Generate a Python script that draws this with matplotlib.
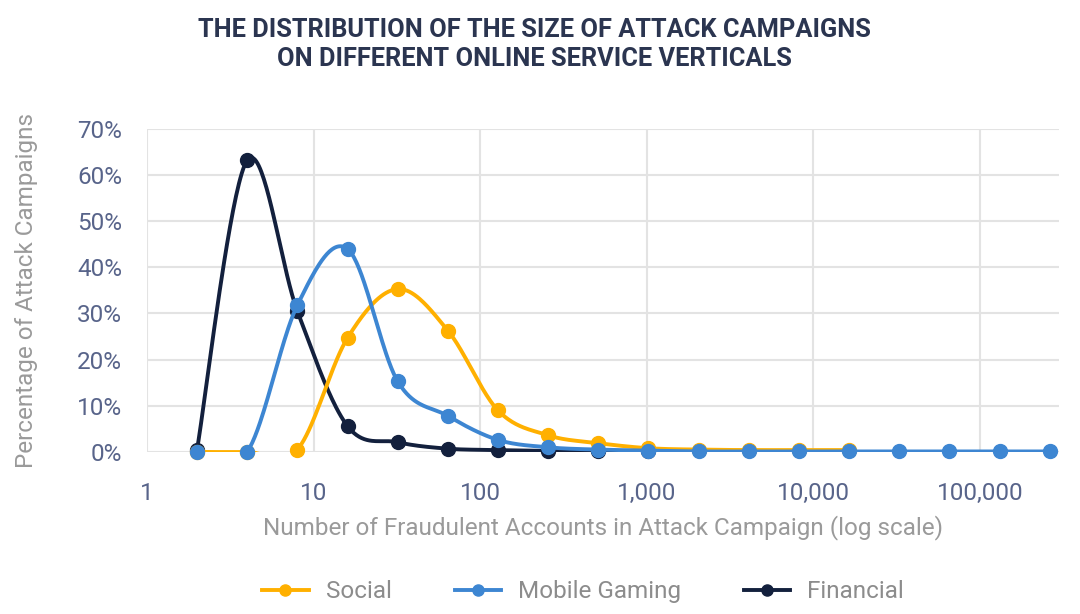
import numpy as np
import matplotlib.pyplot as plt
from matplotlib.ticker import FixedLocator, FuncFormatter

plt.rcParams['font.family'] = ['Roboto', 'DejaVu Sans']

# Campaign sizes (number of fraudulent accounts), powers of two
sizes = [2, 4, 8, 16, 32, 64, 128, 256, 512, 1024, 2048, 4096, 8192,
         16384, 32768, 65536, 131072, 262144]

# Percentage of attack campaigns per vertical
social = [0, 0, 0.5, 24.7, 35.3, 26.3, 9.0, 3.6, 1.9, 0.8, 0.5, 0.4, 0.4, 0.4]
mobile_gaming = [0, 0, 31.8, 44.0, 15.3, 7.8, 2.6, 1.0, 0.5, 0.3, 0.1, 0.1,
                 0.1, 0.1, 0.1, 0.1, 0.1, 0.1]
financial = [0.5, 63.2, 30.5, 5.6, 2.1, 0.7, 0.4, 0.2, 0.1, 0.1]

series = [
    ('Social', social, '#FFB000', 2),
    ('Mobile Gaming', mobile_gaming, '#3D86D2', 3),
    ('Financial', financial, '#13203D', 1),
]


def smooth(xs, ys, n=40):
    # Excel-like smoothed line: cubic Bezier through points in log-x space
    lx = np.log10(xs)
    pts = np.column_stack([lx, ys])
    out = [pts[0]]
    for i in range(len(pts) - 1):
        p0 = pts[i - 1] if i > 0 else pts[i]
        p1 = pts[i]
        p2 = pts[i + 1]
        p3 = pts[i + 2] if i + 2 < len(pts) else pts[i + 1]
        c1 = p1 + (p2 - p0) / 6
        c2 = p2 - (p3 - p1) / 6
        t = np.linspace(0, 1, n)[1:, None]
        seg = ((1 - t) ** 3 * p1 + 3 * (1 - t) ** 2 * t * c1
               + 3 * (1 - t) * t ** 2 * c2 + t ** 3 * p2)
        out.extend(seg)
    out = np.array(out)
    return 10 ** out[:, 0], out[:, 1]


fig = plt.figure(figsize=(10.8, 6.14), dpi=100)
ax = fig.add_axes([0.136, 0.264, 0.845, 0.526])

for name, vals, color, z in series:
    xs = sizes[:len(vals)]
    sx, sy = smooth(xs, vals)
    ax.plot(sx, sy, color=color, lw=2.8, zorder=z, solid_capstyle='round')
    ax.plot(xs, vals, 'o', color=color, ms=10, zorder=z + 0.5, clip_on=False)
    ax.plot([], [], '-o', color=color, lw=2.8, ms=8, label=name)

ax.set_xscale('log')
ax.set_xlim(1, 3.0e5)
ax.set_ylim(0, 70)
ax.xaxis.set_major_locator(FixedLocator([1, 10, 100, 1000, 10000, 100000]))
ax.xaxis.set_minor_locator(FixedLocator([]))
ax.xaxis.set_major_formatter(FuncFormatter(lambda v, p: f'{int(v):,}'))
ax.set_yticks(range(0, 71, 10))
ax.yaxis.set_major_formatter(FuncFormatter(lambda v, p: f'{int(v)}%'))

ax.grid(True, color='#E3E3E3', lw=1.5)
ax.set_axisbelow(True)
for s in ax.spines.values():
    s.set_visible(False)
ax.tick_params(length=0, labelsize=17.5, colors='#58648A', pad=18)
ax.tick_params(axis='x', pad=22)

ax.set_xlabel('Number of Fraudulent Accounts in Attack Campaign (log scale)',
              fontsize=17.5, color='#9A9A9A', labelpad=7)
ax.set_ylabel('Percentage of Attack Campaigns', fontsize=17.5, color='#9A9A9A',
              labelpad=28)

fig.text(0.495, 0.927, 'THE DISTRIBUTION OF THE SIZE OF ATTACK CAMPAIGNS\nON DIFFERENT ONLINE SERVICE VERTICALS',
         ha='center', va='center', fontsize=18.3, fontweight='bold',
         color='#2B3550', linespacing=1.25)

leg = fig.legend(loc='center', bbox_to_anchor=(0.54, 0.036), ncol=3,
                 frameon=False, fontsize=17.5, handlelength=1.9,
                 columnspacing=2.6, handletextpad=0.7)
for t in leg.get_texts():
    t.set_color('#8C8C8C')

plt.savefig('out.png', dpi=100)
plt.close()
